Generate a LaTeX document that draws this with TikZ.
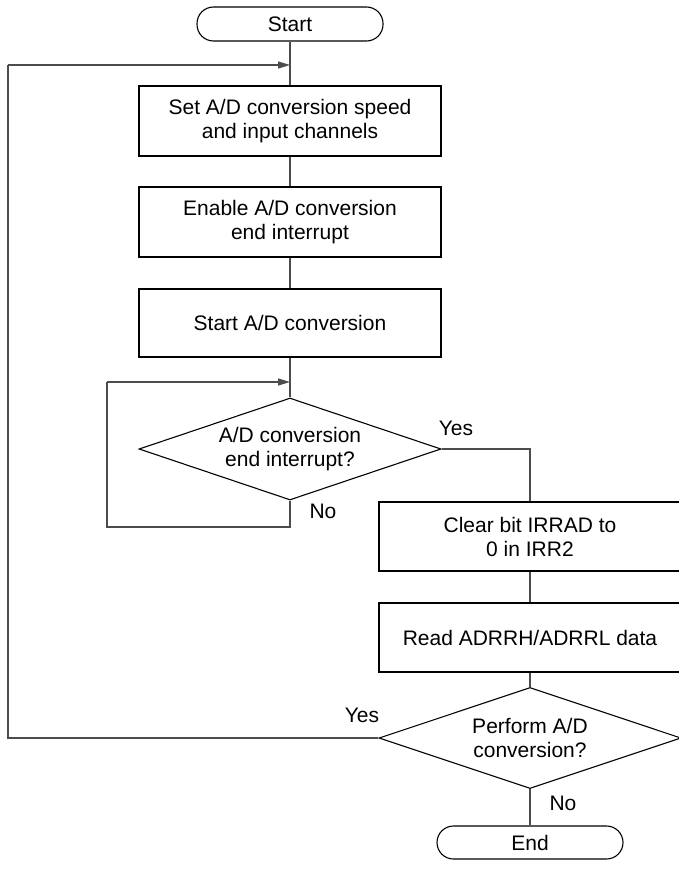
\documentclass[tikz,border=0pt]{standalone}
\usepackage{fontspec}
\setmainfont{Liberation Sans}
\usetikzlibrary{shapes.geometric,arrows.meta}
\begin{document}
\begin{tikzpicture}[x=1pt,y=-1pt,
  every node/.style={font=\fontsize{21}{24}\selectfont},
  procbox/.style={draw=black,line width=1.1pt,minimum width=302pt,inner sep=0pt,align=center},
  termbox/.style={draw=black,line width=1.1pt,rounded corners=16.5pt,minimum width=186pt,minimum height=34pt,inner sep=0pt},
  decbox/.style={draw=black,line width=1.1pt,diamond,aspect=2.96,minimum width=302pt,minimum height=102pt,inner sep=0pt,align=center},
  conn/.style={draw=black!70,line width=1.1pt},
  arr/.style={conn,-{Triangle[length=12pt,width=7pt]}},
  lbl/.style={inner sep=0pt}]
\useasboundingbox (0,0) rectangle (679,875);
\node[termbox] (start) at (290,24) {Start};
\node[procbox,minimum height=70pt] (b1) at (290,121) {Set A/D conversion speed\\and input channels};
\node[procbox,minimum height=70pt] (b2) at (290,222) {Enable A/D conversion\\end interrupt};
\node[procbox,minimum height=68pt] (b3) at (290,323) {Start A/D conversion};
\node[decbox] (d1) at (290,449) {A/D conversion\\end interrupt?};
\node[procbox,minimum height=69pt] (b4) at (530,536.5) {Clear bit IRRAD to\\0 in IRR2};
\node[procbox,minimum height=69pt] (b5) at (530,637.5) {Read ADRRH/ADRRL data};
\node[decbox,minimum height=101pt] (d2) at (530,738) {Perform A/D\\conversion?};
\node[termbox,minimum height=33pt] (end) at (530,842.5) {End};

\coordinate (m1) at (290,65);
\coordinate (m2) at (290,382);
\coordinate (l1) at (8,65);
\coordinate (l2) at (8,738);
\coordinate (q1) at (107,382);
\coordinate (q2) at (107,527);
\coordinate (q3) at (290,527);
\coordinate (y1) at (530,449);

\draw[conn] (start.south) -- (b1.north);
\draw[conn] (b1.south) -- (b2.north);
\draw[conn] (b2.south) -- (b3.north);
\draw[conn] (b3.south) -- (d1.north);
\draw[arr] (q1) -- (m2);
\draw[conn] (d1.south) -- (q3) -- (q2) -- (q1);
\draw[conn] (d1.east) -- (y1) -- (b4.north);
\draw[conn] (b4.south) -- (b5.north);
\draw[conn] (b5.south) -- (d2.north);
\draw[conn] (d2.south) -- (end.north);
\draw[conn] (d2.west) -- (l2) -- (l1);
\draw[arr] (l1) -- (m1);

\node[lbl] (yes1) at (456,428) {Yes};
\node[lbl] (no1) at (323,511) {No};
\node[lbl] (yes2) at (362,715) {Yes};
\node[lbl] (no2) at (563,803) {No};
\end{tikzpicture}
\end{document}
